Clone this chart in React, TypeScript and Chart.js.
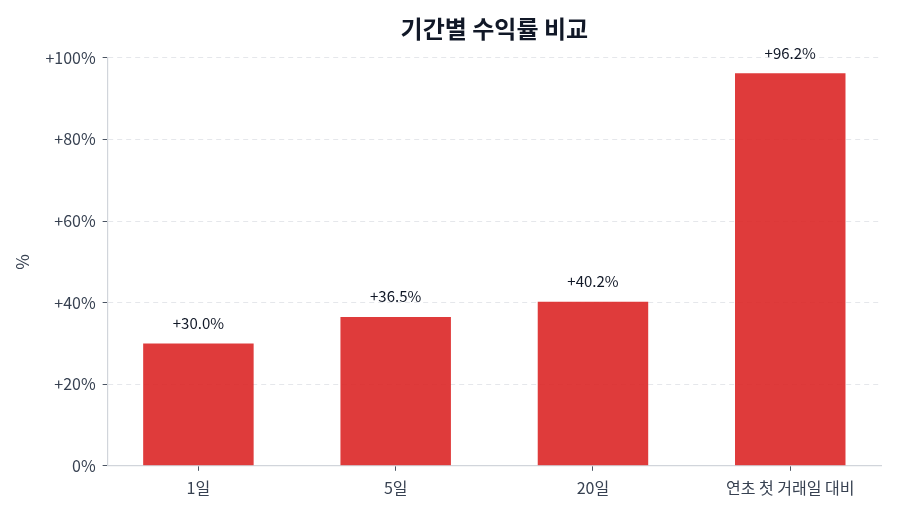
import { useEffect, useRef } from 'react';
import { Chart, ChartConfiguration, registerables } from 'chart.js';

Chart.register(...registerables);

const categories = ['1일', '5일', '20일', '연초 첫 거래일 대비'];
const returns = [30.0, 36.5, 40.2, 96.2];
const yTicks = [0, 20, 40, 60, 80, 100];

const FONT = '"Noto Sans CJK KR", "Noto Sans", sans-serif';

const valueLabels = {
  id: 'valueLabels',
  afterDatasetsDraw(chart: Chart) {
    const { ctx } = chart;
    const meta = chart.getDatasetMeta(0);
    ctx.save();
    ctx.font = `15px ${FONT}`;
    ctx.fillStyle = '#111827';
    ctx.textAlign = 'center';
    ctx.textBaseline = 'bottom';
    meta.data.forEach((bar: any, i) => {
      const v = returns[i];
      ctx.fillText(`+${v.toFixed(1)}%`, bar.x, bar.y - 13);
    });
    ctx.restore();
  },
};

export default function App() {
  const canvasRef = useRef<HTMLCanvasElement>(null);
  const chartRef = useRef<Chart | null>(null);

  useEffect(() => {
    if (!canvasRef.current) return;
    document.body.style.margin = '0';

    const config: ChartConfiguration = {
      type: 'bar',
      data: {
        datasets: [
          {
            data: returns.map((v, i) => ({ x: i, y: v })),
            backgroundColor: 'rgba(220,38,38,0.9)',
            borderWidth: 0,
            barPercentage: 0.56,
            categoryPercentage: 1,
          },
        ],
      },
      options: {
        responsive: false,
        animation: false,
        layout: { padding: { left: 12, right: 19, top: 4, bottom: 8 } },
        plugins: {
          legend: { display: false },
          tooltip: { enabled: false },
          title: {
            display: true,
            text: '기간별 수익률 비교',
            fullSize: false,
            color: '#111827',
            font: { family: FONT, size: 24, weight: 'bold' },
            padding: { top: 10, bottom: 15 },
          },
        },
        scales: {
          x: {
            type: 'linear',
            min: -0.46,
            max: 3.46,
            offset: false,
            afterBuildTicks: (axis: any) => {
              axis.ticks = categories.map((_, i) => ({ value: i }));
            },
            ticks: {
              callback: (v: any) => categories[Math.round(Number(v))] ?? '',
              color: '#374151',
              font: { family: FONT, size: 16 },
              padding: 8,
              maxRotation: 0,
            },
            grid: {
              offset: false,
              drawOnChartArea: false,
              drawTicks: true,
              tickLength: 5,
              tickColor: '#4b5563',
            },
            border: { color: '#d1d5db', width: 1.2 },
          },
          y: {
            min: 0,
            max: 100,
            afterBuildTicks: (axis: any) => {
              axis.ticks = yTicks.map((v) => ({ value: v }));
            },
            ticks: {
              callback: (v: any) => (Number(v) === 0 ? '0%' : `+${v}%`),
              color: '#374151',
              font: { family: FONT, size: 16 },
              padding: 7,
            },
            title: {
              display: true,
              text: '%',
              color: '#374151',
              font: { family: FONT, size: 17 },
              padding: { top: 0, bottom: 6 },
            },
            grid: {
              color: '#e5e7eb',
              tickColor: '#4b5563',
              tickLength: 5,
              tickBorderDash: [],
            },
            border: { color: '#d1d5db', width: 1.2, dash: [5, 4] },
          },
        },
      },
      plugins: [valueLabels],
    };

    chartRef.current?.destroy();
    chartRef.current = new Chart(canvasRef.current, config);
    return () => {
      chartRef.current?.destroy();
      chartRef.current = null;
    };
  }, []);

  return (
    <div style={{ position: 'absolute', left: 0, top: 0, width: 900, height: 514, background: '#fff' }}>
      <canvas ref={canvasRef} width={900} height={514} />
    </div>
  );
}
